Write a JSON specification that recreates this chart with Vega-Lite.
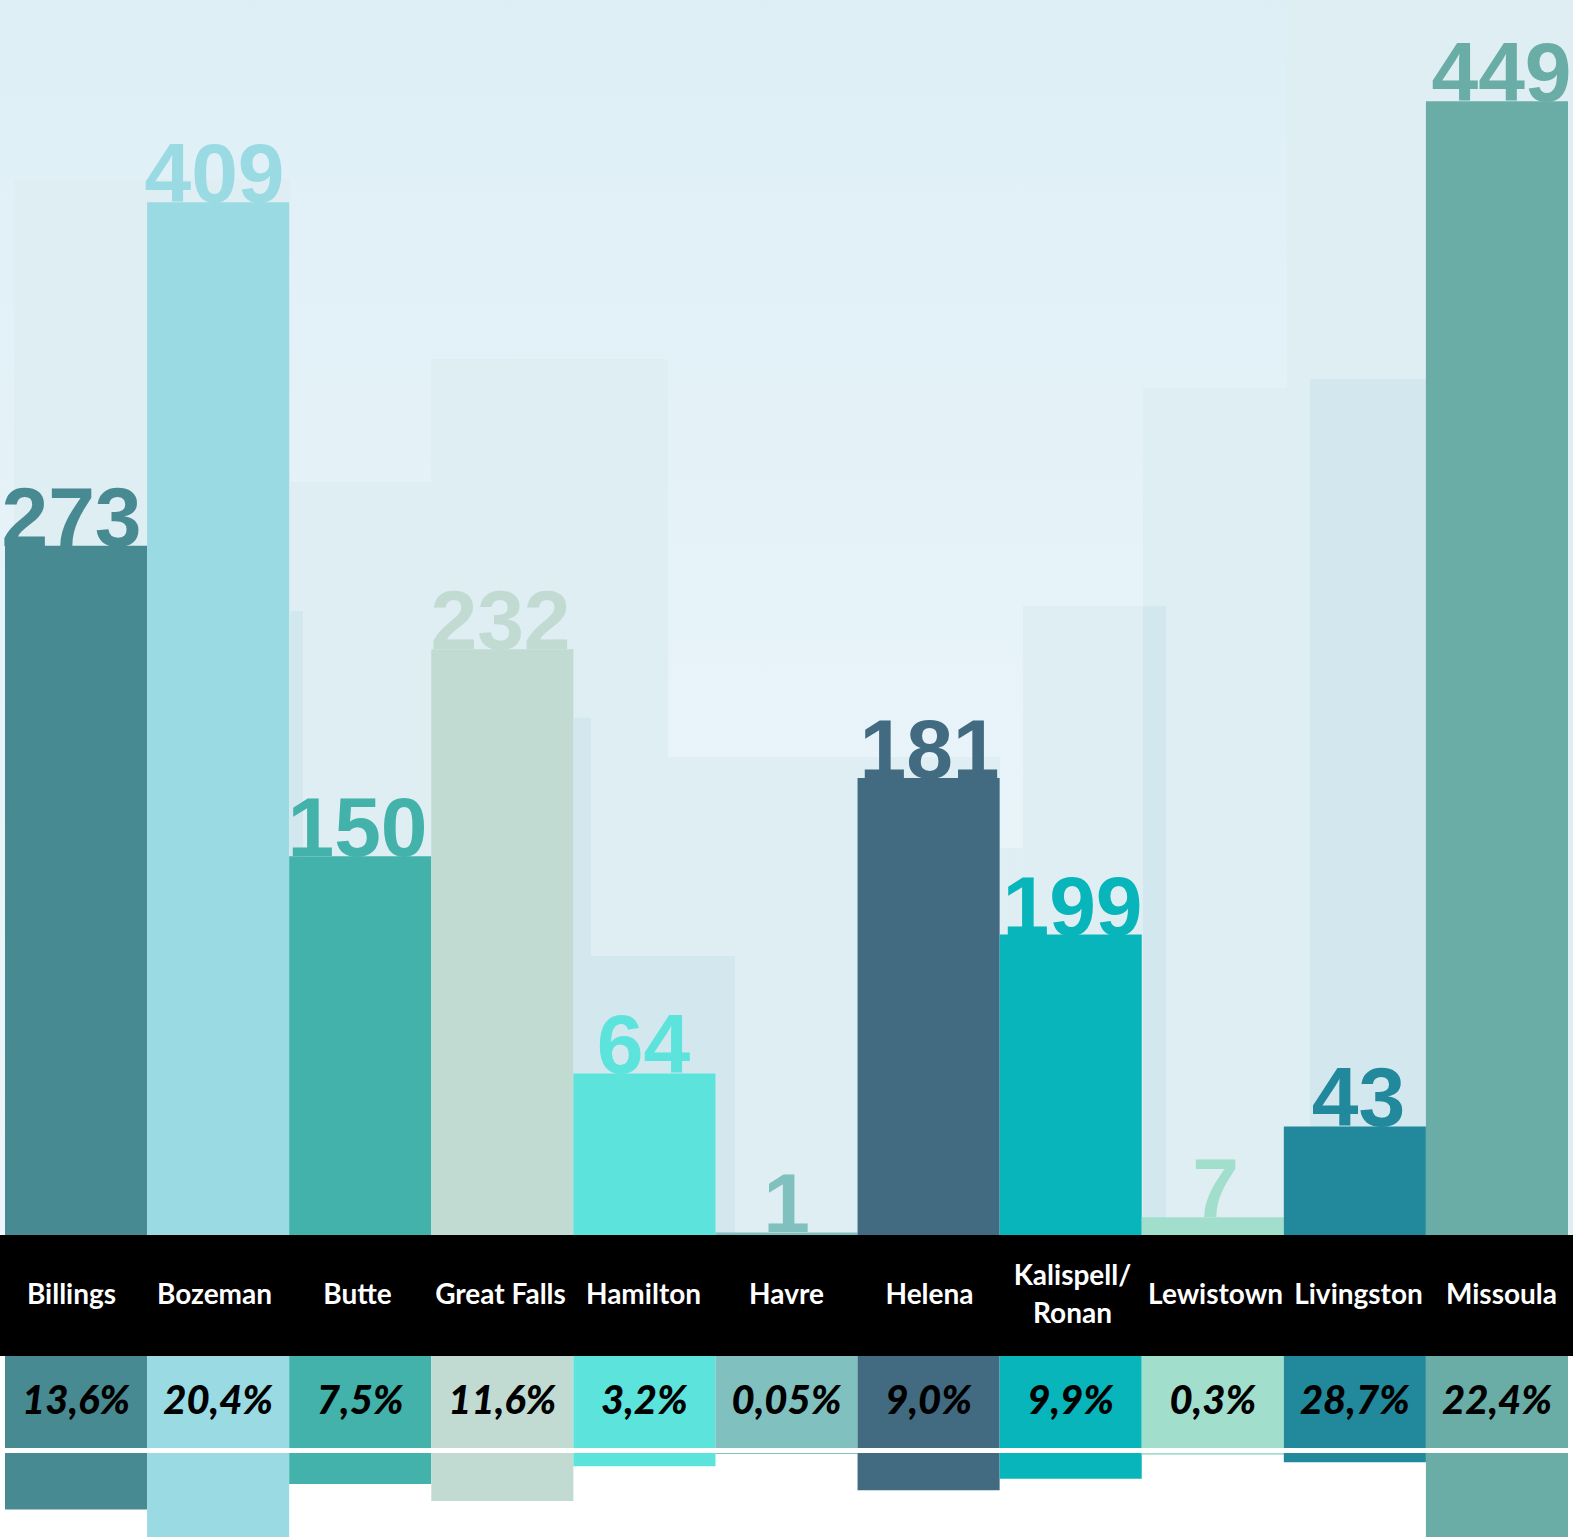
{
  "$schema": "https://vega.github.io/schema/vega-lite/v6.json",
  "padding": 0,
  "autosize": {"type": "pad"},
  "bounds": "flush",
  "background": "white",
  "spacing": 0,
  "config": {"view": {"stroke": null}},
  "datasets": {
    "cities": [
      {"city": "Billings", "label": "Billings", "count": 273, "bar": 273, "share": "13,6%", "lower": 13.6},
      {"city": "Bozeman", "label": "Bozeman", "count": 409, "bar": 409, "share": "20,4%", "lower": 20.4},
      {"city": "Butte", "label": "Butte", "count": 150, "bar": 150, "share": "7,5%", "lower": 7.5},
      {"city": "Great Falls", "label": "Great Falls", "count": 232, "bar": 232, "share": "11,6%", "lower": 11.6},
      {"city": "Hamilton", "label": "Hamilton", "count": 64, "bar": 64, "share": "3,2%", "lower": 3.2},
      {"city": "Havre", "label": "Havre", "count": 1, "bar": 1, "share": "0,05%", "lower": 0.25},
      {"city": "Helena", "label": "Helena", "count": 181, "bar": 181, "share": "9,0%", "lower": 9.0},
      {"city": "Kalispell/Ronan", "label": "Kalispell/\nRonan", "count": 199, "bar": 119, "share": "9,9%", "lower": 6.2},
      {"city": "Lewistown", "label": "Lewistown", "count": 7, "bar": 7, "share": "0,3%", "lower": 0.4},
      {"city": "Livingston", "label": "Livingston", "count": 43, "bar": 43, "share": "28,7%", "lower": 2.2},
      {"city": "Missoula", "label": "Missoula", "count": 449, "bar": 449, "share": "22,4%", "lower": 22.4}
    ],
    "skyline": [
      {"x0": 0.063, "x1": 2.006, "top": 418.2, "tone": "mid"},
      {"x0": 2.006, "x1": 2.998, "top": 298.2, "tone": "mid"},
      {"x0": 2.998, "x1": 4.666, "top": 346.9, "tone": "mid"},
      {"x0": 4.666, "x1": 7.003, "top": 189.3, "tone": "mid"},
      {"x0": 7.003, "x1": 7.164, "top": 153.3, "tone": "mid"},
      {"x0": 7.164, "x1": 8.171, "top": 249.1, "tone": "mid"},
      {"x0": 8.009, "x1": 9.022, "top": 335.4, "tone": "mid"},
      {"x0": 9.022, "x1": 11.0352, "top": 489.1, "tone": "mid"},
      {"x0": 2.006, "x1": 2.097, "top": 247.1, "tone": "dark"},
      {"x0": 4.004, "x1": 4.124, "top": 204.8, "tone": "dark"},
      {"x0": 4.124, "x1": 5.138, "top": 110.5, "tone": "dark"},
      {"x0": 8.009, "x1": 8.171, "top": 249.1, "tone": "dark"},
      {"x0": 9.184, "x1": 10.008, "top": 339.0, "tone": "dark"}
    ]
  },
  "vconcat": [
    {
      "width": 1573,
      "height": 1235,
      "resolve": {"scale": {"x": "independent"}},
      "layer": [
        {
          "data": {"values": [{}]},
          "mark": {"type": "rect", "color": {"gradient": "linear", "x1": 0, "y1": 0, "x2": 0, "y2": 1, "stops": [
            {"offset": 0, "color": "#ddeff5"},
            {"offset": 0.35, "color": "#e4f2f8"},
            {"offset": 0.7, "color": "#e9f4f9"},
            {"offset": 1, "color": "#eef4fb"}
          ]}},
          "encoding": {"x": {"value": 0}, "x2": {"value": "width"}, "y": {"value": 0}, "y2": {"value": "height"}}
        },
        {
          "data": {"name": "skyline"},
          "transform": [{"filter": "datum.tone === 'mid'"}],
          "mark": {"type": "rect", "color": "#dfeef3"},
          "encoding": {
            "x": {"field": "x0", "type": "quantitative", "scale": {"domain": [-0.0352, 11.0352], "nice": false, "zero": false}, "axis": null},
            "x2": {"field": "x1"},
            "y": {"field": "top", "type": "quantitative", "scale": {"domain": [0, 489.1], "nice": false}, "axis": null},
            "y2": {"datum": 0}
          }
        },
        {
          "data": {"name": "skyline"},
          "transform": [{"filter": "datum.tone === 'dark'"}],
          "mark": {"type": "rect", "color": "#d3e7ee"},
          "encoding": {
            "x": {"field": "x0", "type": "quantitative", "scale": {"domain": [-0.0352, 11.0352], "nice": false, "zero": false}, "axis": null},
            "x2": {"field": "x1"},
            "y": {"field": "top", "type": "quantitative", "scale": {"domain": [0, 489.1], "nice": false}, "axis": null},
            "y2": {"datum": 0}
          }
        },
        {
          "data": {"name": "cities"},
          "mark": {"type": "bar"},
          "encoding": {
            "x": {"field": "city", "type": "nominal", "sort": null, "scale": {"paddingInner": 0, "paddingOuter": 0.0352}, "axis": null},
            "y": {"field": "bar", "type": "quantitative", "scale": {"domain": [0, 489.1], "nice": false}, "axis": null},
            "color": {"field": "city", "type": "nominal", "sort": null, "legend": null, "scale": {
              "domain": ["Billings", "Bozeman", "Butte", "Great Falls", "Hamilton", "Havre", "Helena", "Kalispell/Ronan", "Lewistown", "Livingston", "Missoula"],
              "range": ["#488a91", "#99dae3", "#43b2ab", "#c1dbd2", "#5ce3dc", "#80c1bf", "#426b81", "#07b5bb", "#a1decc", "#21899b", "#6aada7"]}}
          }
        },
        {
          "data": {"name": "cities"},
          "mark": {"type": "text", "font": "Liberation Sans", "fontWeight": "bold", "fontSize": 84, "baseline": "alphabetic", "align": "center"},
          "encoding": {
            "x": {"field": "city", "type": "nominal", "sort": null, "scale": {"paddingInner": 0, "paddingOuter": 0.0352}, "axis": null},
            "y": {"field": "bar", "type": "quantitative", "scale": {"domain": [0, 489.1], "nice": false}, "axis": null},
            "text": {"field": "count"},
            "color": {"field": "city", "type": "nominal", "sort": null, "legend": null, "scale": {
              "domain": ["Billings", "Bozeman", "Butte", "Great Falls", "Hamilton", "Havre", "Helena", "Kalispell/Ronan", "Lewistown", "Livingston", "Missoula"],
              "range": ["#488a91", "#99dae3", "#43b2ab", "#c1dbd2", "#5ce3dc", "#80c1bf", "#426b81", "#07b5bb", "#a1decc", "#21899b", "#6aada7"]}}
          }
        }
      ]
    },
    {
      "width": 1573,
      "height": 121,
      "view": {"fill": "black", "stroke": null},
      "data": {"name": "cities"},
      "layer": [
        {
          "transform": [{"filter": "datum.city !== 'Kalispell/Ronan'"}],
          "mark": {"type": "text", "font": "Lato", "fontWeight": "bold", "fontSize": 28, "color": "white", "baseline": "middle", "align": "center"},
          "encoding": {
            "x": {"field": "city", "type": "nominal", "sort": null, "scale": {"domain": ["Billings", "Bozeman", "Butte", "Great Falls", "Hamilton", "Havre", "Helena", "Kalispell/Ronan", "Lewistown", "Livingston", "Missoula"], "paddingInner": 0, "paddingOuter": 0.0352}, "axis": null},
            "text": {"field": "label"}
          }
        },
        {
          "transform": [{"filter": "datum.city === 'Kalispell/Ronan'"}],
          "mark": {"type": "text", "font": "Lato", "fontWeight": "bold", "fontSize": 28, "color": "white", "baseline": "middle", "align": "center", "lineBreak": "\n", "lineHeight": 38, "dy": -19},
          "encoding": {
            "x": {"field": "city", "type": "nominal", "sort": null, "scale": {"domain": ["Billings", "Bozeman", "Butte", "Great Falls", "Hamilton", "Havre", "Helena", "Kalispell/Ronan", "Lewistown", "Livingston", "Missoula"], "paddingInner": 0, "paddingOuter": 0.0352}, "axis": null},
            "text": {"field": "label"}
          }
        }
      ]
    },
    {
      "spacing": 5,
      "bounds": "flush",
      "vconcat": [
        {
          "width": 1573,
          "height": 92,
          "data": {"name": "cities"},
          "layer": [
            {
              "mark": {"type": "rect"},
              "encoding": {
                "x": {"field": "city", "type": "nominal", "sort": null, "scale": {"paddingInner": 0, "paddingOuter": 0.0352}, "axis": null},
                "y": {"value": 0},
                "y2": {"value": "height"},
                "color": {"field": "city", "type": "nominal", "sort": null, "legend": null, "scale": {
                  "domain": ["Billings", "Bozeman", "Butte", "Great Falls", "Hamilton", "Havre", "Helena", "Kalispell/Ronan", "Lewistown", "Livingston", "Missoula"],
                  "range": ["#488a91", "#99dae3", "#43b2ab", "#c1dbd2", "#5ce3dc", "#80c1bf", "#426b81", "#07b5bb", "#a1decc", "#21899b", "#6aada7"]}}
              }
            },
            {
              "mark": {"type": "text", "font": "Lato", "fontWeight": 900, "fontStyle": "italic", "fontSize": 40, "color": "black", "baseline": "middle", "align": "center"},
              "encoding": {
                "x": {"field": "city", "type": "nominal", "sort": null, "scale": {"paddingInner": 0, "paddingOuter": 0.0352}, "axis": null},
                "text": {"field": "share"}
              }
            }
          ]
        },
        {
          "width": 1573,
          "height": 84,
          "data": {"name": "cities"},
          "mark": {"type": "bar", "clip": true},
          "encoding": {
            "x": {"field": "city", "type": "nominal", "sort": null, "scale": {"paddingInner": 0, "paddingOuter": 0.0352}, "axis": null},
            "y": {"field": "lower", "type": "quantitative", "scale": {"domain": [0, 20.25], "nice": false, "reverse": true}, "axis": null},
            "color": {"field": "city", "type": "nominal", "sort": null, "legend": null, "scale": {
              "domain": ["Billings", "Bozeman", "Butte", "Great Falls", "Hamilton", "Havre", "Helena", "Kalispell/Ronan", "Lewistown", "Livingston", "Missoula"],
              "range": ["#488a91", "#99dae3", "#43b2ab", "#c1dbd2", "#5ce3dc", "#80c1bf", "#426b81", "#07b5bb", "#a1decc", "#21899b", "#6aada7"]}}
          }
        }
      ]
    }
  ]
}
